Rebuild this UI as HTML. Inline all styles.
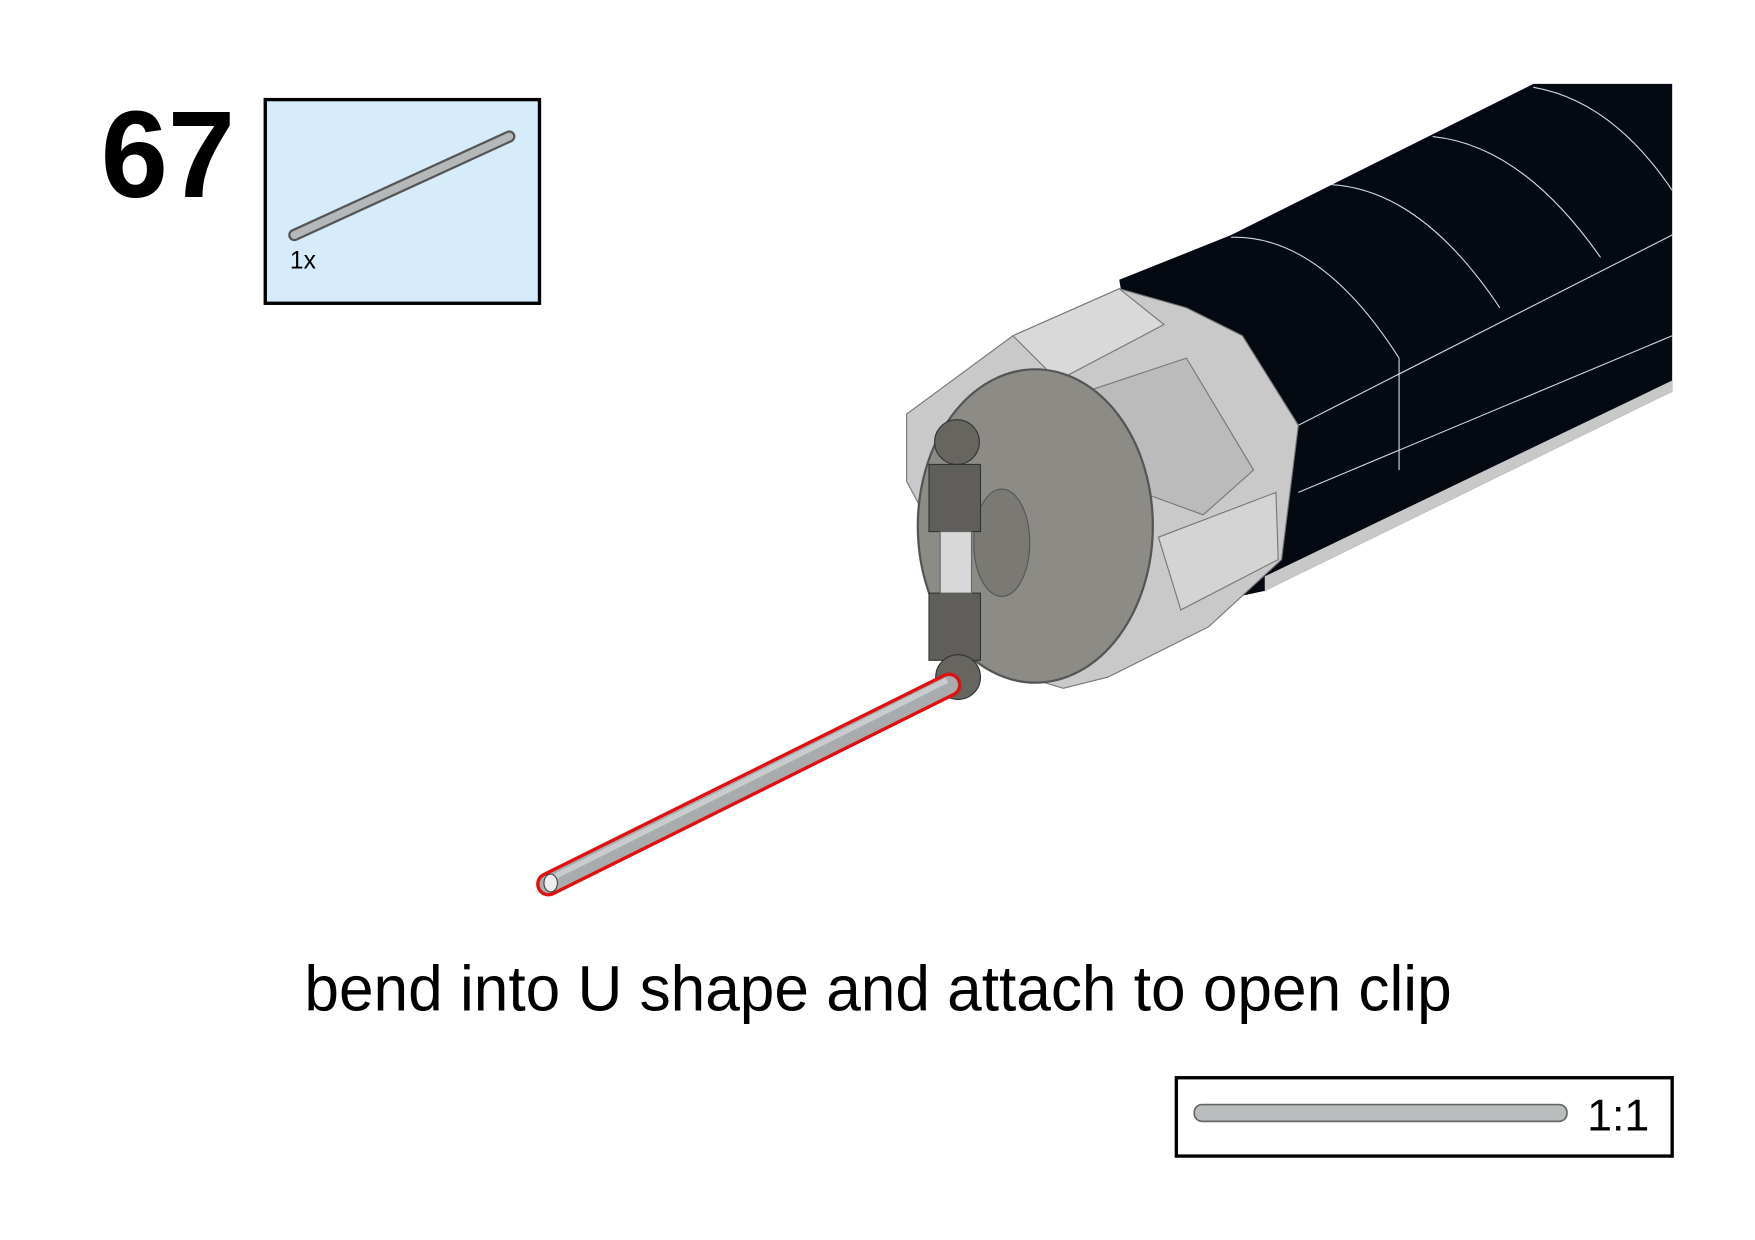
<!DOCTYPE html>
<html><head><style>html,body{margin:0;padding:0;background:#fff;}svg{display:block;}</style></head>
<body>
<svg width="1755" height="1240" viewBox="0 0 1568 1108" xmlns="http://www.w3.org/2000/svg" preserveAspectRatio="none">
<rect width="1568" height="1108" fill="#fff"/>
<text x="90" y="176" font-family="Liberation Sans, sans-serif" font-weight="bold" font-size="110" textLength="120" lengthAdjust="spacingAndGlyphs">67</text>
<rect x="237" y="89" width="245" height="182" fill="#d6ecfa" stroke="#000" stroke-width="3"/>
<line x1="263" y1="210" x2="455" y2="122" stroke="#555" stroke-width="11" stroke-linecap="round"/>
<line x1="263" y1="210" x2="455" y2="122" stroke="#b5b8b8" stroke-width="7" stroke-linecap="round"/>
<text x="259" y="240" font-family="Liberation Sans, sans-serif" font-size="22">1x</text>
<polygon points="1000,250 1100,210 1370,75 1494,75 1494,350 1130,528 1050,545" fill="#050a12"/>
<g stroke="#cfd6de" stroke-width="1" fill="none">
<path d="M1100,212 Q1180,210 1250,320"/><path d="M1190,165 Q1270,170 1340,275"/><path d="M1280,122 Q1360,130 1430,230"/><path d="M1370,78 Q1440,90 1494,170"/>
<path d="M1160,380 L1494,210"/><path d="M1160,440 L1494,300"/><path d="M1250,320 L1250,420"/>
</g>
<polygon points="1130,528 1494,350 1494,340 1130,515" fill="#c8c8c8"/>
<polygon points="810,370 905,300 1000,258 1060,275 1110,300 1160,380 1145,500 1080,560 990,605 950,615 900,600 810,430" fill="#c9c9c9" stroke="#777" stroke-width="1"/>
<polygon points="905,300 1000,258 1040,290 945,340" fill="#d9d9d9" stroke="#777"/>
<polygon points="970,350 1060,320 1120,420 1075,460 1020,440" fill="#bbb" stroke="#777"/>
<polygon points="1035,480 1140,440 1142,500 1055,545" fill="#d4d4d4" stroke="#777"/>
<ellipse cx="925" cy="470" rx="105" ry="140" fill="#8c8b85" stroke="#555" stroke-width="2"/>
<ellipse cx="895" cy="485" rx="25" ry="48" fill="#7a7974" stroke="#555"/>
<rect x="830" y="415" width="46" height="60" fill="#5f5e5a" stroke="#333"/>
<rect x="830" y="530" width="46" height="60" fill="#5f5e5a" stroke="#333"/>
<rect x="840" y="475" width="28" height="55" fill="#d8d8d8" stroke="#666"/>
<circle cx="855" cy="395" r="20" fill="#66655f" stroke="#333"/>
<circle cx="856" cy="605" r="20" fill="#66655f" stroke="#333"/>
<line x1="490" y1="790" x2="848" y2="612" stroke="#e01010" stroke-width="22" stroke-linecap="round"/>
<line x1="490" y1="790" x2="848" y2="612" stroke="#a8acad" stroke-width="16" stroke-linecap="round"/>
<line x1="490" y1="786" x2="846" y2="608" stroke="#c9cccc" stroke-width="5"/>
<ellipse cx="492" cy="789" rx="6" ry="8" fill="#eee" stroke="#444"/>
<text x="272" y="903" font-family="Liberation Sans, sans-serif" font-size="57" textLength="1025" lengthAdjust="spacingAndGlyphs">bend into U shape and attach to open clip</text>
<rect x="1051" y="963" width="443" height="70" fill="#fff" stroke="#000" stroke-width="3"/>
<rect x="1067" y="987" width="333" height="15" rx="7" fill="#b9bdbe" stroke="#666" stroke-width="1.5"/>
<text x="1418" y="1010" font-family="Liberation Sans, sans-serif" font-size="40">1:1</text>
</svg>
</body></html>
